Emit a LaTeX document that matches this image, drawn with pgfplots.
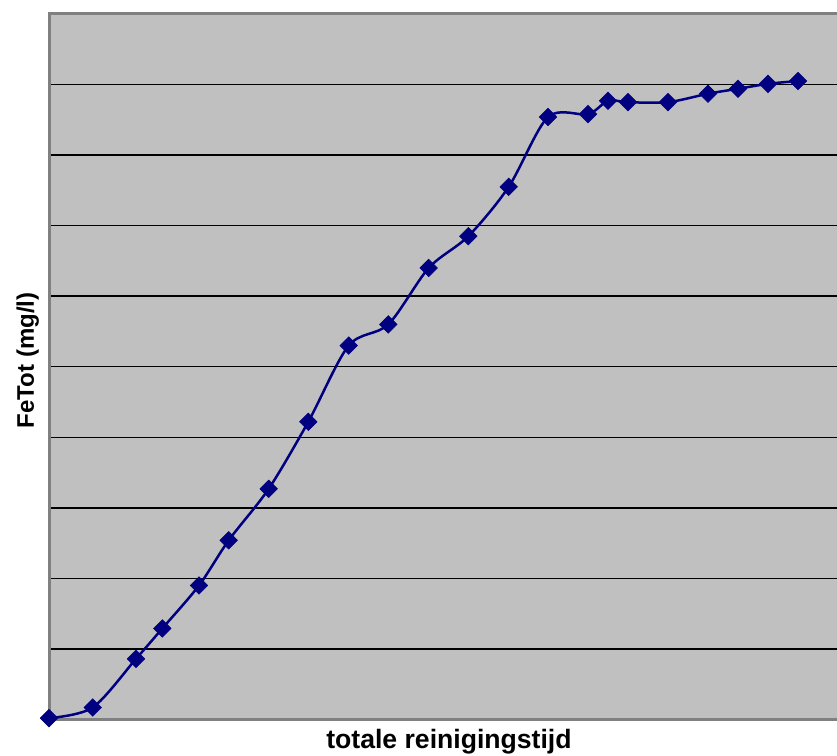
\documentclass[border=0pt]{standalone}
\usepackage{fontspec}
\setmainfont{Liberation Sans}
\usepackage{pgfplots}
\pgfplotsset{compat=1.18}
\definecolor{plotbg}{HTML}{C0C0C0}
\definecolor{frame}{HTML}{808080}
\definecolor{navy}{HTML}{000080}
\begin{document}
\begin{tikzpicture}
\begin{axis}[
  at={(0,0)}, anchor=south west,
  scale only axis,
  width=396pt, height=352.75pt,
  xmin=0, xmax=79.2, ymin=0, ymax=10,
  axis background/.style={fill=plotbg},
  axis line style={draw=frame, line width=1.5pt},
  xtick=\empty,
  ytick={1,2,3,4,5,6,7,8,9},
  yticklabels={},
  major tick length=0pt,
  ymajorgrids,
  major grid style={black, line width=0.7pt},
  clip=false,
  every axis x label/.style={at={(axis description cs:0.505,-0.0411)}, anchor=base, font=\fontsize{13.3}{15}\selectfont\bfseries},
  every axis y label/.style={at={(axis description cs:-0.019,0.509)}, anchor=base, rotate=90, font=\fontsize{12}{14}\selectfont\bfseries},
  xlabel={totale reinigingstijd},
  ylabel={FeTot (mg/l)},
]
\addplot[navy, line width=1.25pt, smooth, tension=0.5,
  mark=square*, mark size=3.1pt, mark options={rotate=45, fill=navy, draw=navy, line width=0.3pt}]
coordinates {
(0,0.02) (4.37,0.17) (8.7,0.86) (11.33,1.29) (15.0,1.90) (17.97,2.54)
(21.97,3.27) (25.93,4.22) (29.97,5.30) (33.93,5.60) (37.97,6.40) (41.93,6.85)
(45.97,7.55) (49.9,8.54) (53.9,8.58) (55.9,8.77) (57.9,8.75) (61.9,8.75)
(65.9,8.87) (68.9,8.94) (71.9,9.01) (74.9,9.05)
};
\end{axis}
\pgfresetboundingbox
\useasboundingbox (-24.5pt,-18.25pt) rectangle (394pt,359.75pt);
\end{tikzpicture}
\end{document}
